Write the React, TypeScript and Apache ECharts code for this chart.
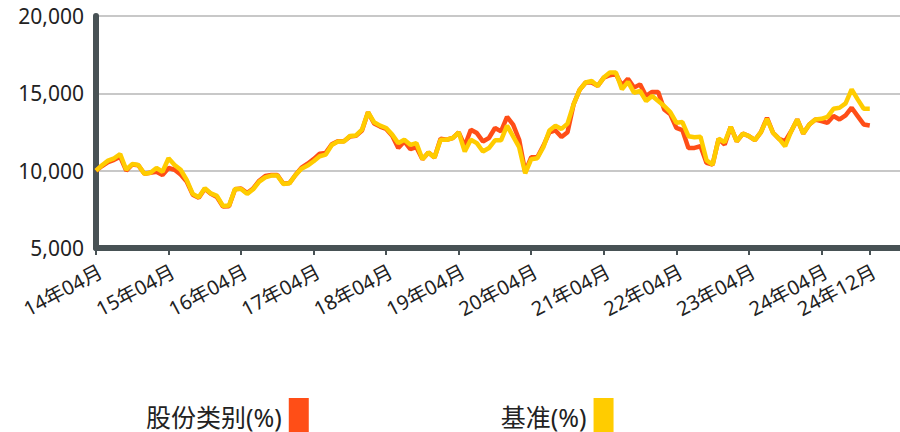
import React, { useEffect, useRef } from "react";
import * as echarts from "echarts";

// Monthly values, 14年04月 .. 24年12月 (129 months)
const fundValues: number[] = [
  10000, 10300, 10550, 10700, 10900, 10000, 10400, 10350, 9800, 9870,
  9930, 9720, 10170, 10060, 9750, 9300, 8450, 8250, 8830, 8500,
  8300, 7680, 7700, 8800, 8850, 8550, 8850, 9350, 9650, 9720,
  9720, 9150, 9200, 9720, 10200, 10450, 10750, 11100, 11150, 11700,
  11900, 11900, 12200, 12250, 12600, 13780, 13050, 12850, 12700, 12250,
  11460, 11890, 11390, 11520, 10740, 11170, 10850, 12060, 12000, 12110,
  12480, 11600, 12650, 12430, 11890, 12110, 12760, 12540, 13480, 12980,
  12000, 9930, 10870, 10870, 11600, 12480, 12600, 12170, 12480, 14280,
  15220, 15700, 15700, 15480, 16020, 16170, 16250, 15500, 15950, 15370,
  15580, 14830, 15090, 15090, 13960, 13640, 12770, 12620, 11470, 11470,
  11580, 10500, 10390, 12060, 11690, 12840, 11900, 12400, 12230, 11970,
  12490, 13420, 12450, 12060, 11900, 12550, 13310, 12400, 12990, 13310,
  13200, 13090, 13530, 13310, 13570, 14070, 13530, 12990, 12920,
];

const benchValues: number[] = [
  10000, 10350, 10650, 10800, 11080, 10060, 10430, 10370, 9800, 9870,
  10170, 9930, 10800, 10370, 10060, 9400, 8500, 8280, 8860, 8530,
  8370, 7720, 7740, 8820, 8820, 8500, 8800, 9290, 9570, 9680,
  9680, 9140, 9180, 9720, 10130, 10330, 10610, 10930, 11040, 11660,
  11880, 11880, 12240, 12280, 12650, 13780, 13130, 12910, 12760, 12330,
  11780, 12000, 11670, 11780, 10740, 11170, 10850, 12000, 12000, 12110,
  12480, 11240, 12000, 11780, 11240, 11460, 11960, 11960, 12910, 12220,
  11520, 9830, 10740, 10800, 11520, 12600, 12910, 12700, 13040, 14280,
  15220, 15700, 15800, 15480, 16020, 16350, 16350, 15260, 15740, 15040,
  15150, 14500, 14830, 14500, 14180, 13790, 13100, 13140, 12230, 12160,
  12190, 10670, 10390, 12060, 11840, 12840, 11900, 12400, 12230, 11970,
  12490, 13350, 12450, 12060, 11580, 12550, 13310, 12400, 12990, 13310,
  13350, 13480, 14000, 14070, 14350, 15260, 14610, 14000, 14000,
];

const seriesNames = ["股份类别(%)", "基准(%)"];
const yMin = 5000;
const yMax = 20000;
const yStep = 5000;

// category labels: YY年MM月 from 14年04月
const monthLabels: string[] = Array.from({ length: fundValues.length }, (_, i) => {
  const m = 3 + i;
  const y = 14 + Math.floor(m / 12);
  const mm = (m % 12) + 1;
  return `${y}年${String(mm).padStart(2, "0")}月`;
});
const trailingBlank: string[] = ["", "", "", "", ""];
const categories = [...monthLabels, ...trailingBlank];
const lastIdx = monthLabels.length - 1;
const showTick = (i: number) => i <= lastIdx && (i % 12 === 0 || i === lastIdx);

const AXIS = "#485255";
const FONT = "'Noto Sans', 'Noto Sans CJK SC', sans-serif";

export default function App() {
  const ref = useRef<HTMLDivElement>(null);
  useEffect(() => {
    if (!ref.current) return;
    const chart = echarts.init(ref.current, null, { renderer: "svg" });
    chart.setOption({
      animation: false,
      textStyle: { fontFamily: FONT },
      grid: { left: 96, top: 16, width: 6.08 * (categories.length - 1), height: 232, containLabel: false },
      legend: {
        left: 146,
        top: 398,
        padding: 0,
        itemGap: 192,
        itemWidth: 20,
        itemHeight: 37,
        align: "right",
        icon: "rect",
        textStyle: { fontSize: 25, lineHeight: 25, color: "#222", fontFamily: FONT, padding: [0, 2, 0, 0] },
        data: seriesNames,
      },
      xAxis: {
        type: "category",
        data: categories,
        boundaryGap: false,
        axisLine: { show: true, lineStyle: { color: AXIS, width: 6 } },
        axisTick: {
          show: true,
          interval: (i: number) => showTick(i),
          length: 7,
          lineStyle: { color: AXIS, width: 2 },
        },
        axisLabel: {
          interval: (i: number) => showTick(i),
          rotate: 28,
          fontSize: 20,
          color: "#222",
          fontFamily: FONT,
          margin: 13,
          align: "right",
          verticalAlign: "top",
        },
        splitLine: { show: false },
      },
      yAxis: {
        type: "value",
        min: yMin,
        max: yMax,
        interval: yStep,
        axisLine: { show: true, lineStyle: { color: AXIS, width: 6 } },
        axisTick: { show: false },
        axisLabel: {
          fontSize: 21,
          color: "#222",
          fontFamily: FONT,
          margin: 12,
          formatter: (v: number) => v.toLocaleString("en-US"),
        },
        splitLine: { show: true, lineStyle: { color: "#c8c8c8", width: 2 } },
      },
      series: [
        {
          name: seriesNames[0],
          type: "line",
          data: fundValues,
          symbol: "none",
          color: "#FF4E17",
          lineStyle: { width: 4.5, color: "#FF4E17" },
          itemStyle: { color: "#FF4E17" },
        },
        {
          name: seriesNames[1],
          type: "line",
          data: benchValues,
          symbol: "none",
          color: "#FFCC00",
          lineStyle: { width: 4.5, color: "#FFCC00" },
          itemStyle: { color: "#FFCC00" },
        },
      ],
    });
    return () => chart.dispose();
  }, []);
  return <div ref={ref} style={{ width: 900, height: 432, position: "absolute", left: 0, top: 0 }} />;
}
